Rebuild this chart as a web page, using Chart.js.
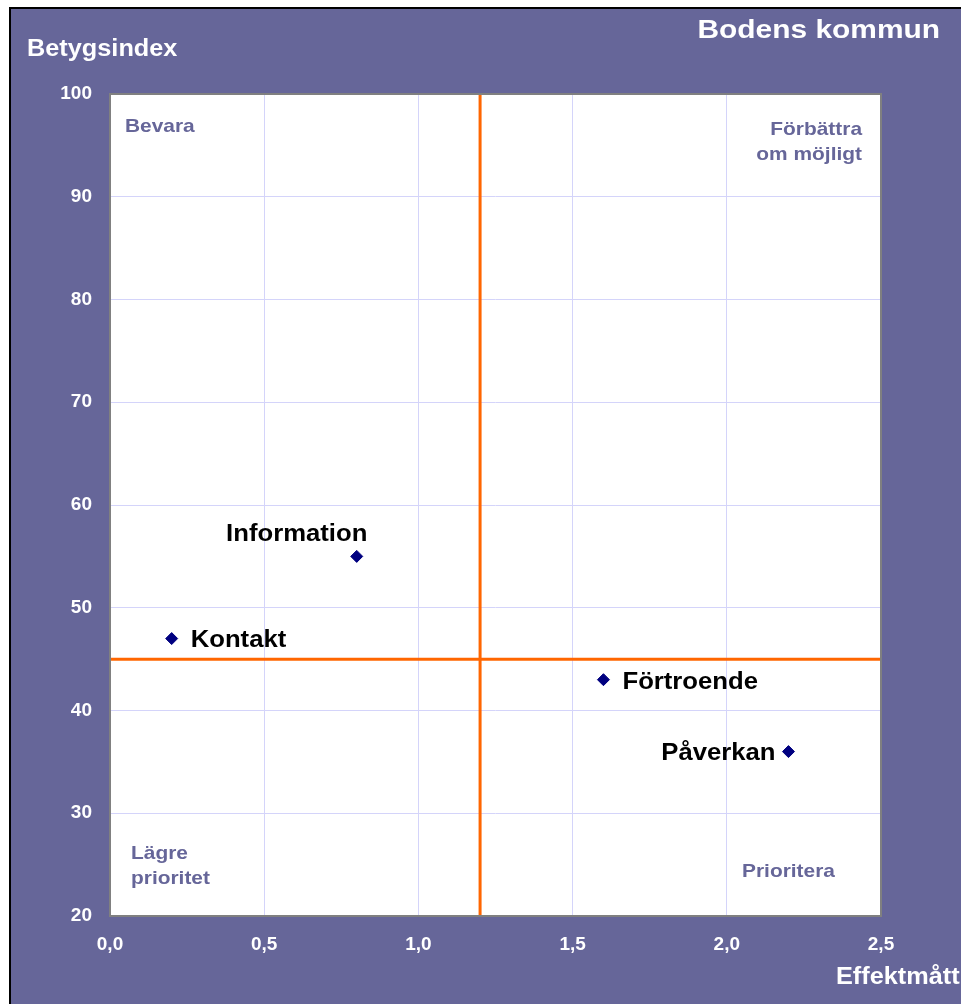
<!DOCTYPE html>
<html lang="sv">
<head>
<meta charset="UTF-8">
<title>Bodens kommun</title>
<script src="https://cdn.jsdelivr.net/npm/chart.js"></script>
<style>
  html, body { margin: 0; padding: 0; background: #ffffff; }
  #wrap { width: 961px; height: 1004px; position: relative; }
</style>
</head>
<body>
<div id="wrap"><canvas id="myChart" width="961" height="1004"></canvas></div>
<script>
// data
const categories = ['Kontakt', 'Information', 'Förtroende', 'Påverkan'];
const effekt = [0.2, 0.8, 1.6, 2.2];
const betyg = [47, 55, 43, 36];
const xTicks = [0, 0.5, 1.0, 1.5, 2.0, 2.5];
const yTicks = [20, 30, 40, 50, 60, 70, 80, 90, 100];
const splitX = 1.2;   // orange vertical line
const splitY = 45;    // orange horizontal line

// where each label sits relative to its point (px)
const labelPlace = [
  { dx: 19, dy: 2, align: 'left' },
  { dx: -60, dy: -22, align: 'center' },
  { dx: 19, dy: 3, align: 'left' },
  { dx: -13, dy: 2, align: 'right' }
];

const purple = '#666699';
const fontFam = '"Liberation Sans", Arial, sans-serif';

// text is a bit wider than plain Arial in the original, so stretch it sideways
function stretchText(c, s, x, y, align, sx) {
  c.save();
  c.translate(x, y);
  c.scale(sx, 1);
  c.textAlign = align;
  c.fillText(s, 0, 0);
  c.restore();
}

const backdrop = {
  id: 'backdrop',
  beforeDraw(chart) {
    const c = chart.ctx;
    const a = chart.chartArea;
    c.save();
    c.fillStyle = '#ffffff';
    c.fillRect(0, 0, chart.width, chart.height);
    c.fillStyle = purple;
    c.fillRect(10, 8, chart.width - 10, chart.height - 8);
    c.strokeStyle = '#000000';
    c.lineWidth = 2;
    c.beginPath();
    c.moveTo(10, chart.height);
    c.lineTo(10, 8);
    c.lineTo(chart.width, 8);
    c.stroke();
    c.fillStyle = '#ffffff';
    c.fillRect(a.left, a.top, a.right - a.left, a.bottom - a.top);
    c.restore();
  },
  afterDraw(chart) {
    const c = chart.ctx;
    const a = chart.chartArea;
    const xs = chart.scales.x, ys = chart.scales.y;
    c.save();
    // plot frame
    c.strokeStyle = '#808080';
    c.lineWidth = 2;
    c.strokeRect(a.left, a.top, a.right - a.left, a.bottom - a.top);

    // titles
    c.fillStyle = '#ffffff';
    c.textBaseline = 'middle';
    c.font = 'bold 26px ' + fontFam;
    stretchText(c, 'Bodens kommun', 940, 31, 'right', 1.15);
    c.font = 'bold 23px ' + fontFam;
    stretchText(c, 'Betygsindex', 27, 50, 'left', 1.1);
    stretchText(c, 'Effektmått', 836, 978, 'left', 1.1);

    // quadrant notes
    c.fillStyle = purple;
    c.font = 'bold 19px ' + fontFam;
    const q = 1.1;
    stretchText(c, 'Bevara', a.left + 15, a.top + 33, 'left', q);
    stretchText(c, 'Lägre', a.left + 21, a.bottom - 62, 'left', q);
    stretchText(c, 'prioritet', a.left + 21, a.bottom - 37, 'left', q);
    stretchText(c, 'Prioritera', a.left + 632, a.bottom - 44, 'left', q);
    stretchText(c, 'Förbättra', a.right - 19, a.top + 36, 'right', q);
    stretchText(c, 'om möjligt', a.right - 19, a.top + 61, 'right', q);

    // point labels
    c.fillStyle = '#000000';
    c.font = 'bold 24px ' + fontFam;
    categories.forEach((name, i) => {
      const p = labelPlace[i];
      stretchText(c, name, xs.getPixelForValue(effekt[i]) + p.dx, ys.getPixelForValue(betyg[i]) + p.dy, p.align, 1.07);
    });
    c.restore();
  }
};

const ctx = document.getElementById('myChart').getContext('2d');
const myChart = new Chart(ctx, {
  type: 'scatter',
  data: {
    datasets: [
      {
        label: 'Betygsindex',
        data: effekt.map((x, i) => ({ x: x, y: betyg[i] })),
        pointStyle: 'rectRot',
        radius: 6,
        backgroundColor: '#000080',
        borderColor: '#000080',
        borderWidth: 1,
        order: 0
      },
      {
        type: 'line',
        data: [{ x: splitX, y: yTicks[0] }, { x: splitX, y: yTicks[yTicks.length - 1] }],
        borderColor: '#ff6600',
        borderWidth: 3,
        pointRadius: 0,
        order: 1
      },
      {
        type: 'line',
        data: [{ x: xTicks[0], y: splitY }, { x: xTicks[xTicks.length - 1], y: splitY }],
        borderColor: '#ff6600',
        borderWidth: 3,
        pointRadius: 0,
        order: 1
      }
    ]
  },
  plugins: [backdrop],
  options: {
    responsive: false,
    animation: false,
    layout: { padding: { left: 0, top: 94, right: 80, bottom: 0 } },
    plugins: { legend: { display: false }, tooltip: { enabled: false } },
    scales: {
      x: {
        type: 'linear',
        min: xTicks[0],
        max: xTicks[xTicks.length - 1],
        afterBuildTicks: (s) => { s.ticks = xTicks.map(v => ({ value: v })); },
        afterFit: (s) => { s.height = 88; },
        grid: { color: '#d4d4fa', lineWidth: 1, drawTicks: false },
        border: { display: false },
        ticks: {
          padding: 17,
          color: '#ffffff',
          font: { family: fontFam, size: 19, weight: 'bold' },
          maxRotation: 0,
          callback: (v) => v.toFixed(1).replace('.', ',')
        }
      },
      y: {
        type: 'linear',
        min: yTicks[0],
        max: yTicks[yTicks.length - 1],
        afterBuildTicks: (s) => { s.ticks = yTicks.map(v => ({ value: v })); },
        afterFit: (s) => { s.width = 110; },
        grid: { color: '#d4d4fa', lineWidth: 1, drawTicks: false },
        border: { display: false },
        ticks: {
          padding: 18,
          color: '#ffffff',
          font: { family: fontFam, size: 19, weight: 'bold' }
        }
      }
    }
  }
});
</script>
</body>
</html>
